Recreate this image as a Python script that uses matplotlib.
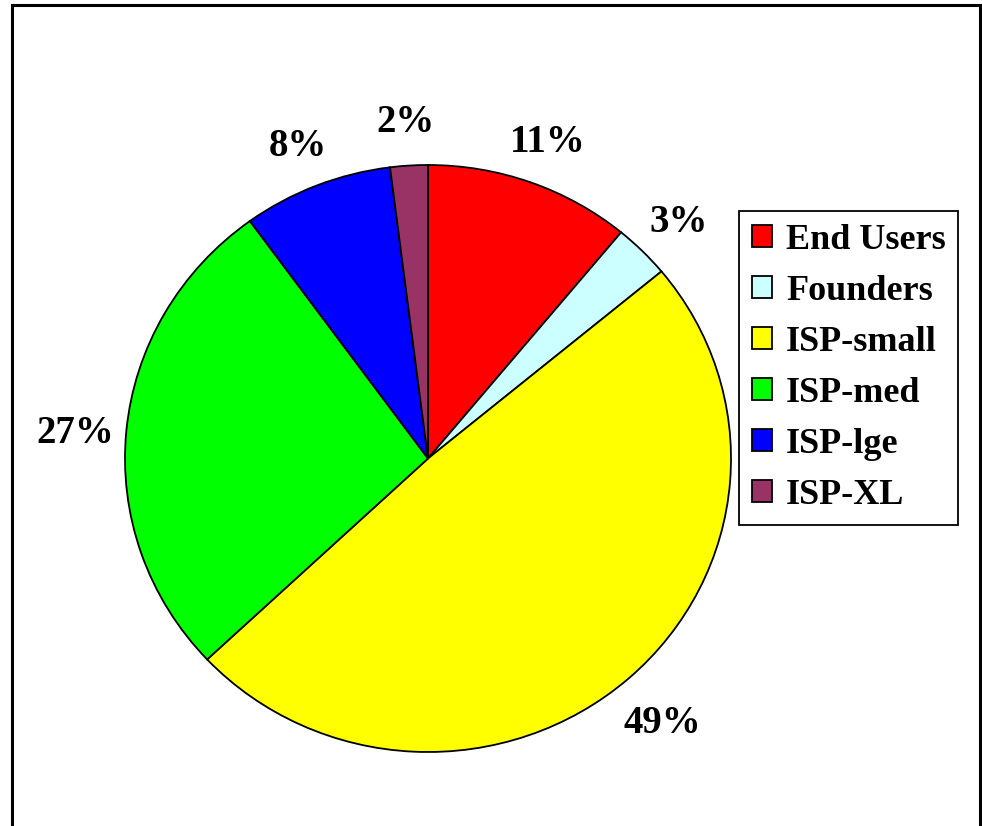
import matplotlib.pyplot as plt
import matplotlib.transforms as mtransforms
from matplotlib.patches import Rectangle

labels = ["End Users", "Founders", "ISP-small", "ISP-med", "ISP-lge", "ISP-XL"]
values = [11, 3, 49, 27, 8, 2]
colors = ["#FF0000", "#CCFFFF", "#FFFF00", "#00FF00", "#0000FF", "#993366"]

plt.rcParams['font.family'] = ['Liberation Serif', 'DejaVu Serif']
plt.rcParams['font.weight'] = 'bold'

W, H = 982, 826
fig = plt.figure(figsize=(W / 100, H / 100), dpi=100)

# outer frame (bottom edge runs off the picture)
fig.patches.append(Rectangle((12 / W, -0.02), 968 / W, 1 - 5 / H + 0.02,
                             transform=fig.transFigure, fill=False,
                             edgecolor="black", linewidth=2.2))

# pie axes: slightly squashed ellipse like the original
ax = fig.add_axes([125 / W, 1 - 752 / H, 606 / W, 587 / H])
wedges, _, pcts = ax.pie(values, colors=colors, startangle=90, counterclock=False,
                         autopct='%1.0f%%', pctdistance=1.17, radius=1,
                         wedgeprops=dict(edgecolor="black", linewidth=1.3),
                         textprops=dict(fontsize=28, fontweight='bold'))
# nudge the percentage labels down a little, as in the original
shift = mtransforms.ScaledTranslation(0, -0.07, fig.dpi_scale_trans)
for t in pcts:
    t.set_transform(t.get_transform() + shift)
ax.set_aspect('auto')
ax.set_xlim(-1, 1)
ax.set_ylim(-1, 1)
ax.axis('off')

leg = fig.legend(wedges, labels, loc='upper left',
                 bbox_to_anchor=(739 / W, 1 - 211 / H),
                 fancybox=False, frameon=True, edgecolor='black', framealpha=1,
                 fontsize=26, handlelength=0.55, handleheight=0.55,
                 handletextpad=0.4, labelspacing=0.5, borderpad=0.35,
                 borderaxespad=0)
leg.get_frame().set_linewidth(1.3)
for h in leg.legend_handles:
    h.set_linewidth(1.3)

fig.savefig("out.png", dpi=100)
